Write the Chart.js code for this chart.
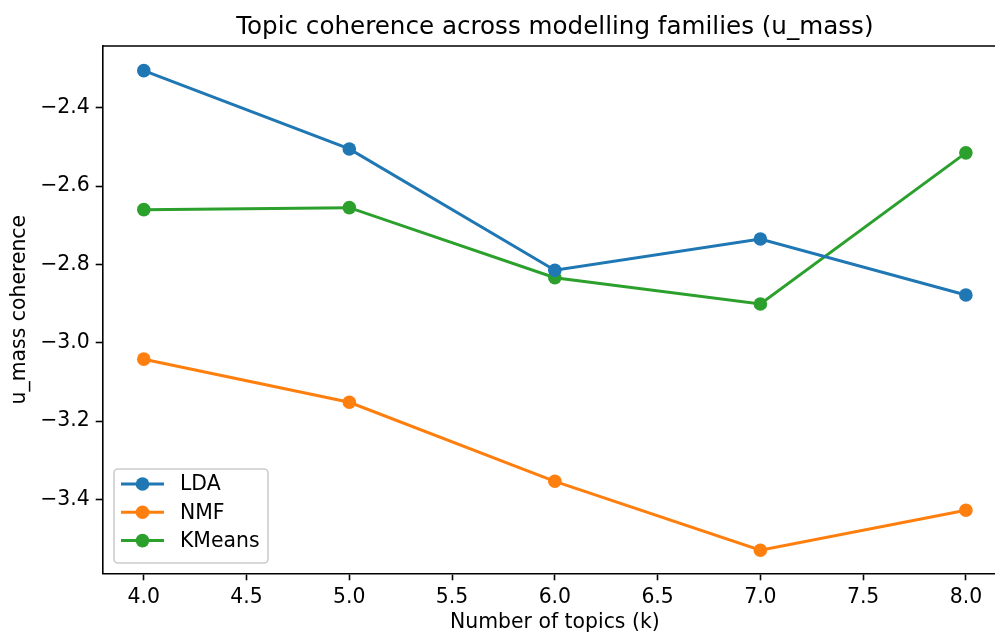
<!DOCTYPE html>
<html>
<head>
<meta charset="utf-8">
<script src="https://cdn.jsdelivr.net/npm/chart.js@4.4.1/dist/chart.umd.min.js"></script>
<style>
  html, body { margin: 0; padding: 0; background: #fff; overflow: hidden; }
  canvas { display: block; }
</style>
</head>
<body>
<canvas id="coherenceChart" width="1020" height="635"></canvas>
<script>
// Data
const topicCounts = [4, 5, 6, 7, 8];
const ldaScores = [-2.305, -2.505, -2.815, -2.735, -2.878];
const nmfScores = [-3.042, -3.152, -3.354, -3.530, -3.428];
const kmeansScores = [-2.660, -2.655, -2.834, -2.901, -2.515];

const xTickValues = [4.0, 4.5, 5.0, 5.5, 6.0, 6.5, 7.0, 7.5, 8.0];
const yTickValues = [-3.4, -3.2, -3.0, -2.8, -2.6, -2.4];

const FONT = 'DejaVu Sans';
const tickFont = { family: FONT, size: 20.4 };

function toPoints(values) {
  return topicCounts.map((k, i) => ({ x: k, y: values[i] }));
}

function series(label, values, color) {
  return {
    label: label,
    data: toPoints(values),
    borderColor: color,
    backgroundColor: color,
    borderWidth: 3,
    pointRadius: 6.8,
    pointHoverRadius: 6.8,
    pointBorderWidth: 0,
    tension: 0
  };
}

// title centred over the plot area, plus top/right spines and legend
const framePlugin = {
  id: 'frame',
  afterDatasetsDraw(chart) {
    const { ctx, chartArea: a } = chart;
    ctx.save();
    ctx.strokeStyle = '#000';
    ctx.lineWidth = 1.6;
    ctx.beginPath();
    ctx.moveTo(a.left, a.top);
    ctx.lineTo(a.right, a.top);
    ctx.lineTo(a.right, a.bottom);
    ctx.stroke();

    // title
    ctx.fillStyle = '#000';
    ctx.font = '24.6px "' + FONT + '"';
    ctx.textAlign = 'center';
    ctx.textBaseline = 'alphabetic';
    ctx.fillText('Topic coherence across modelling families (u_mass)', (a.left + a.right) / 2, 34);

    // legend, lower left
    const bx = 114, by = 469, bw = 154, bh = 94;
    ctx.fillStyle = 'rgba(255,255,255,0.8)';
    ctx.strokeStyle = '#cccccc';
    ctx.lineWidth = 1.6;
    ctx.beginPath();
    ctx.roundRect(bx, by, bw, bh, 4);
    ctx.fill();
    ctx.stroke();
    ctx.font = '20.4px "' + FONT + '"';
    ctx.textAlign = 'left';
    ctx.textBaseline = 'middle';
    chart.data.datasets.forEach((ds, i) => {
      const y = 484 + i * 28.3;
      ctx.strokeStyle = ds.borderColor;
      ctx.lineWidth = 3;
      ctx.beginPath();
      ctx.moveTo(121, y);
      ctx.lineTo(164, y);
      ctx.stroke();
      ctx.fillStyle = ds.backgroundColor;
      ctx.beginPath();
      ctx.arc(142.5, y, 6.8, 0, Math.PI * 2);
      ctx.fill();
      ctx.fillStyle = '#000';
      ctx.fillText(ds.label, 180, y + 1);
    });
    ctx.restore();
  }
};

new Chart(document.getElementById('coherenceChart'), {
  type: 'line',
  data: {
    datasets: [
      series('LDA', ldaScores, '#1f77b4'),
      series('NMF', nmfScores, '#ff7f0e'),
      series('KMeans', kmeansScores, '#2ca02c')
    ]
  },
  options: {
    responsive: false,
    animation: false,
    events: [],
    layout: { padding: { top: 46, right: 13, left: 0, bottom: 0 } },
    plugins: {
      legend: { display: false },
      title: { display: false },
      tooltip: { enabled: false }
    },
    scales: {
      x: {
        type: 'linear',
        min: 3.8,
        max: 8.2,
        afterBuildTicks: scale => { scale.ticks = xTickValues.map(v => ({ value: v })); },
        afterFit: scale => { scale.height = 61.7; },
        grid: { drawOnChartArea: false, drawTicks: true, tickLength: 7, tickColor: '#000', tickWidth: 1.6 },
        border: { display: true, color: '#000', width: 1.6 },
        ticks: {
          color: '#000',
          font: tickFont,
          padding: 5,
          maxRotation: 0,
          autoSkip: false,
          callback: v => Number(v).toFixed(1)
        },
        title: {
          display: true,
          text: 'Number of topics (k)',
          color: '#000',
          font: { family: FONT, size: 20.4, lineHeight: 1.2 },
          padding: { top: 0, bottom: 0 }
        }
      },
      y: {
        min: -3.589,
        max: -2.242,
        afterBuildTicks: scale => { scale.ticks = yTickValues.map(v => ({ value: v })); },
        afterFit: scale => { scale.width = 102.7; },
        grid: { drawOnChartArea: false, drawTicks: true, tickLength: 7, tickColor: '#000', tickWidth: 1.6 },
        border: { display: true, color: '#000', width: 1.6 },
        ticks: {
          color: '#000',
          font: tickFont,
          padding: 6,
          autoSkip: false,
          callback: v => (v < 0 ? '\u2212' : '') + Math.abs(v).toFixed(1)
        },
        title: {
          display: true,
          text: 'u_mass coherence',
          color: '#000',
          font: { family: FONT, size: 20.4, lineHeight: 1.2 },
          padding: { top: 7, bottom: 0 }
        }
      }
    }
  },
  plugins: [framePlugin]
});
</script>
</body>
</html>
